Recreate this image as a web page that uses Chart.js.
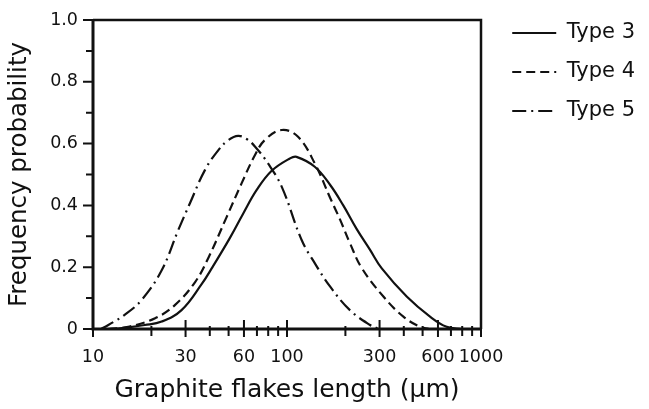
<!DOCTYPE html>
<html>
<head>
<meta charset="utf-8">
<script src="https://cdn.jsdelivr.net/npm/chart.js@4"></script>
<style>
  body { margin: 0; background: #fff; }
  #wrap { width: 649px; height: 409px; }
</style>
</head>
<body>
<div id="wrap"><canvas id="flakeChart"></canvas></div>
<script>
// length (um) and frequency
const type3X = [13, 18.5, 22.6, 28.6, 36.3, 40.9, 50.8, 59.5, 69.8, 83.4, 103.5, 112, 139, 167, 195, 228, 268, 308, 414, 546, 665, 800];
const type3Y = [0, 0.013, 0.024, 0.061, 0.145, 0.196, 0.295, 0.374, 0.45, 0.512, 0.552, 0.557, 0.525, 0.466, 0.4, 0.325, 0.256, 0.196, 0.105, 0.04, 0.007, 0];

const type4X = [12, 15.2, 20.9, 26.5, 33.6, 39.3, 48.9, 58.4, 68.4, 77, 94, 114, 139, 167, 188, 211, 243, 314, 398, 485, 540];
const type4Y = [0, 0.007, 0.035, 0.078, 0.152, 0.23, 0.363, 0.472, 0.563, 0.612, 0.644, 0.622, 0.536, 0.424, 0.353, 0.278, 0.197, 0.105, 0.04, 0.007, 0];

const type5X = [11, 12, 14.5, 17.8, 22.6, 27.5, 31.6, 37.8, 44.3, 50, 56, 62, 68.5, 80, 94, 119, 140, 167, 211, 268, 300];
const type5Y = [0, 0.013, 0.045, 0.094, 0.19, 0.32, 0.407, 0.515, 0.579, 0.612, 0.625, 0.615, 0.59, 0.535, 0.46, 0.288, 0.21, 0.137, 0.061, 0.013, 0];

const xTicks = [10, 30, 60, 100, 300, 600, 1000];
const xMinor = [20, 40, 50, 70, 80, 90, 200, 400, 500, 700, 800, 900];
const yTicks = [0, 0.2, 0.4, 0.6, 0.8, 1.0];
const yMinor = [0.1, 0.3, 0.5, 0.7, 0.9];

const ink = '#111';
const fam = "'DejaVu Sans', sans-serif";
const plotRight = 481;

function pts(xs, ys) {
    return xs.map((v, i) => ({ x: v, y: ys[i] }));
}

// box round the plot and the tick marks that cross the axes
const frame = {
    id: 'frame',
    afterDatasetsDraw(chart) {
        const { ctx, chartArea: a, scales } = chart;
        const x = scales.x, y = scales.y;
        ctx.save();
        ctx.strokeStyle = ink;
        ctx.lineCap = 'butt';

        ctx.lineWidth = 2.5;
        ctx.beginPath();
        ctx.moveTo(a.left, a.top);
        ctx.lineTo(a.right, a.top);
        ctx.lineTo(a.right, a.bottom);
        ctx.stroke();

        ctx.lineWidth = 3;
        ctx.beginPath();
        ctx.moveTo(a.left, a.top - 1);
        ctx.lineTo(a.left, a.bottom);
        ctx.lineTo(a.right + 1, a.bottom);
        ctx.stroke();

        ctx.lineWidth = 2;
        ctx.beginPath();
        xTicks.forEach(v => {
            const p = x.getPixelForValue(v);
            ctx.moveTo(p, a.bottom - 9);
            ctx.lineTo(p, a.bottom + 8);
        });
        xMinor.forEach(v => {
            const p = x.getPixelForValue(v);
            ctx.moveTo(p, a.bottom - 3);
            ctx.lineTo(p, a.bottom + 7);
        });
        yTicks.forEach(v => {
            const p = y.getPixelForValue(v);
            ctx.moveTo(a.left - 10, p);
            ctx.lineTo(a.left, p);
        });
        yMinor.forEach(v => {
            const p = y.getPixelForValue(v);
            ctx.moveTo(a.left - 7, p);
            ctx.lineTo(a.left, p);
        });
        ctx.stroke();
        ctx.restore();
    }
};

const ctx = document.getElementById('flakeChart').getContext('2d');
const flakeChart = new Chart(ctx, {
    type: 'line',
    data: {
        datasets: [{
            label: 'Type 3',
            data: pts(type3X, type3Y),
            borderColor: ink,
            borderWidth: 2.2,
            borderDash: []
        }, {
            label: 'Type 4',
            data: pts(type4X, type4Y),
            borderColor: ink,
            borderWidth: 2.2,
            borderDash: [9, 5]
        }, {
            label: 'Type 5',
            data: pts(type5X, type5Y),
            borderColor: ink,
            borderWidth: 2.2,
            borderDash: [14, 5, 2, 5]
        }]
    },
    options: {
        responsive: true,
        maintainAspectRatio: false,
        animation: false,
        tension: 0.4,
        pointRadius: 0,
        layout: {
            padding: { top: 4.5, right: 4, bottom: 0, left: 0 }
        },
        plugins: {
            tooltip: { enabled: false },
            legend: {
                position: 'right',
                align: 'start',
                maxWidth: 220,
                labels: {
                    usePointStyle: true,
                    pointStyle: 'line',
                    pointStyleWidth: 44,
                    padding: 18,
                    color: ink,
                    font: { family: fam, size: 21 },
                    // keep the dash pattern of each line in its legend sample
                    generateLabels: chart =>
                        Chart.defaults.plugins.legend.labels.generateLabels(chart).map((item, i) => {
                            item.lineDash = chart.data.datasets[i].borderDash;
                            item.lineWidth = 2;
                            return item;
                        })
                }
            }
        },
        scales: {
            x: {
                type: 'logarithmic',
                position: 'bottom',
                min: 10,
                max: 1000,
                grid: { display: false, drawTicks: false },
                border: { display: false },
                afterBuildTicks: s => { s.ticks = xTicks.map(v => ({ value: v })); },
                afterFit: s => { s.height = 80; },
                ticks: {
                    autoSkip: false,
                    maxRotation: 0,
                    padding: 18,
                    color: ink,
                    font: { family: fam, size: 17.5 },
                    callback: v => String(v)
                },
                title: {
                    display: true,
                    text: 'Graphite flakes length (\u03bcm)',
                    color: ink,
                    font: { family: fam, size: 25 },
                    padding: { top: 0, bottom: 4 }
                }
            },
            x2: {
                type: 'linear',
                position: 'top',
                grid: { display: false, drawTicks: false },
                border: { display: false },
                ticks: { display: false },
                afterFit: s => { s.height = 15.5; }
            },
            y: {
                min: 0,
                max: 1,
                grid: { display: false, drawTicks: false },
                border: { display: false },
                afterBuildTicks: s => { s.ticks = yTicks.map(v => ({ value: v })); },
                afterFit: s => {
                    s.width = 93;
                    s.paddingTop = 0;
                    s.paddingBottom = 0;
                },
                ticks: {
                    padding: 15,
                    color: ink,
                    font: { family: fam, size: 17.5 },
                    callback: v => (v === 0 ? '0' : v.toFixed(1))
                },
                title: {
                    display: true,
                    text: 'Frequency probability',
                    color: ink,
                    font: { family: fam, size: 24.5 },
                    padding: { top: 5, bottom: 0 }
                }
            },
            y2: {
                type: 'linear',
                position: 'right',
                grid: { display: false, drawTicks: false },
                border: { display: false },
                ticks: { display: false },
                // spacer between plot box and legend so the box ends at plotRight
                afterFit: s => {
                    const lg = s.chart.legend;
                    s.width = Math.max(0, s.chart.width - 4 - (lg ? lg.width : 0) - plotRight);
                }
            }
        }
    },
    plugins: [frame]
});
</script>
</body>
</html>
